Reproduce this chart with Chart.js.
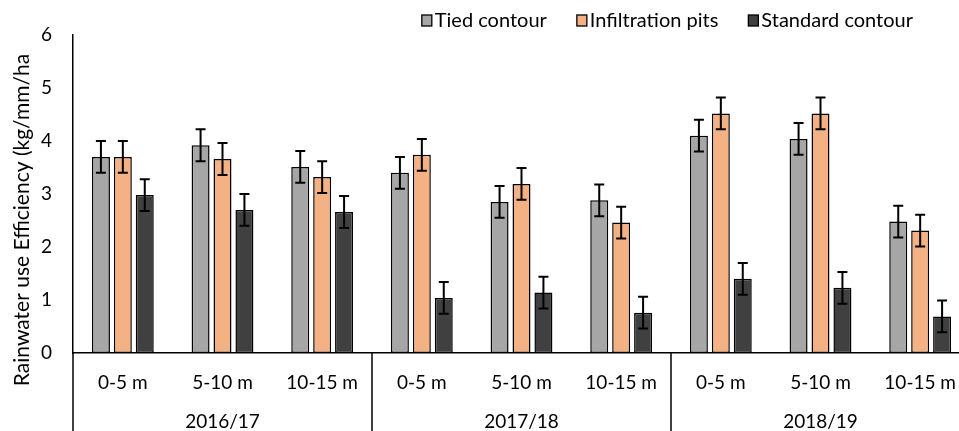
<!DOCTYPE html>
<html>
<head>
<meta charset="utf-8">
<script src="https://cdn.jsdelivr.net/npm/chart.js@4/dist/chart.umd.min.js"></script>
<style>
  html, body { margin: 0; padding: 0; background: #fff; overflow: hidden; }
  #wrap { width: 970px; height: 431px; position: relative; }
</style>
</head>
<body>
<div id="wrap"><canvas id="myCanvas"></canvas></div>
<script>
// Data
const ranges = ['0-5 m', '5-10 m', '10-15 m', '0-5 m', '5-10 m', '10-15 m', '0-5 m', '5-10 m', '10-15 m'];
const seasons = ['2016/17', '2017/18', '2018/19'];
const tiedContour = [3.70, 3.92, 3.51, 3.40, 2.85, 2.88, 4.10, 4.04, 2.48];
const infiltrationPits = [3.70, 3.66, 3.32, 3.74, 3.19, 2.46, 4.52, 4.52, 2.31];
const standardContour = [2.98, 2.70, 2.66, 1.04, 1.14, 0.76, 1.40, 1.23, 0.69];
const tiedErr = [0.30, 0.30, 0.30, 0.30, 0.30, 0.30, 0.30, 0.30, 0.30];
const pitsErr = [0.30, 0.30, 0.30, 0.30, 0.30, 0.30, 0.30, 0.30, 0.30];
const standardErr = [0.30, 0.30, 0.30, 0.30, 0.30, 0.30, 0.30, 0.30, 0.30];
const yTicks = [0, 1, 2, 3, 4, 5, 6];

const FONT = 'Lato, "Open Sans", sans-serif';
Chart.defaults.font.family = FONT;
Chart.defaults.color = '#000';

const ctx = document.getElementById('myCanvas').getContext('2d');

// error bars drawn from each bar's own scale position
const errorBars = {
    id: 'errorBars',
    afterDatasetsDraw(chart) {
        const c = chart.ctx;
        const yScale = chart.scales.y;
        c.save();
        c.strokeStyle = '#000';
        c.lineWidth = 2;
        chart.data.datasets.forEach((ds, i) => {
            const meta = chart.getDatasetMeta(i);
            meta.data.forEach((bar, j) => {
                const v = ds.data[j], e = ds.errors[j];
                const top = yScale.getPixelForValue(v + e);
                const bot = yScale.getPixelForValue(v - e);
                c.beginPath();
                c.moveTo(bar.x, top); c.lineTo(bar.x, bot);
                c.moveTo(bar.x - 5, top); c.lineTo(bar.x + 5, top);
                c.moveTo(bar.x - 5, bot); c.lineTo(bar.x + 5, bot);
                c.stroke();
            });
        });
        c.restore();
    }
};

// season labels, separators, legend and the y title
const extras = {
    id: 'extras',
    afterDraw(chart) {
        const c = chart.ctx;
        const x = chart.scales.x;
        const area = chart.chartArea;
        const H = chart.height;
        c.save();
        c.strokeStyle = '#000';
        c.lineWidth = 1.5;
        const seps = [area.left, (x.getPixelForValue(2) + x.getPixelForValue(3)) / 2,
                      (x.getPixelForValue(5) + x.getPixelForValue(6)) / 2];
        seps.forEach(sx => {
            c.beginPath();
            c.moveTo(sx, area.bottom);
            c.lineTo(sx, H);
            c.stroke();
        });
        c.fillStyle = '#000';
        c.font = '19px ' + FONT;
        c.textAlign = 'center';
        c.textBaseline = 'middle';
        seasons.forEach((s, k) => {
            c.fillText(s, x.getPixelForValue(k * 3 + 1), 422);
        });

        // legend, right aligned like the original
        c.font = '20px ' + FONT;
        c.textAlign = 'left';
        const items = chart.data.datasets;
        const widths = items.map(ds => 10 + 3 + c.measureText(ds.label).width);
        const total = widths.reduce((a, b) => a + b, 0) + 30 * (items.length - 1);
        let lx = 913 - total;
        items.forEach((ds, i) => {
            c.fillStyle = ds.backgroundColor;
            c.fillRect(lx, 15, 10, 11);
            c.strokeStyle = '#000';
            c.lineWidth = 1.3;
            c.strokeRect(lx, 15, 10, 11);
            c.fillStyle = '#000';
            c.fillText(ds.label, lx + 13, 21);
            lx += widths[i] + 30;
        });

        c.font = '21px ' + FONT;
        c.textAlign = 'center';
        c.translate(22, 220);
        c.rotate(-Math.PI / 2);
        c.fillText('Rainwater use Efficiency (kg/mm/ha', 0, 0);
        c.restore();
    }
};

const barStyle = { borderColor: '#000', borderWidth: 1.5, borderSkipped: false,
                   categoryPercentage: 0.66, barPercentage: 0.82 };

const chart = new Chart(ctx, {
    type: 'bar',
    data: {
        labels: ranges,
        datasets: [
            { label: 'Tied contour', data: tiedContour, errors: tiedErr, backgroundColor: '#a6a6a6', ...barStyle },
            { label: 'Infiltration pits', data: infiltrationPits, errors: pitsErr, backgroundColor: '#f4b183', ...barStyle },
            { label: 'Standard contour', data: standardContour, errors: standardErr, backgroundColor: '#404040', ...barStyle },
        ],
    },
    options: {
        responsive: true,
        maintainAspectRatio: false,
        animation: false,
        layout: { padding: { top: 35, right: 0, bottom: 0, left: 0 } },
        plugins: {
            tooltip: { enabled: false },
            legend: { display: false }
        },
        scales: {
            x: {
                grid: { display: false, drawTicks: false },
                border: { display: true, color: '#000', width: 1.5 },
                ticks: { font: { size: 19 }, color: '#000', padding: 18, maxRotation: 0, autoSkip: false },
                afterFit(scale) { scale.height = 78; scale.paddingLeft = 0; scale.paddingRight = 0; }
            },
            y: {
                min: 0, max: 6,
                grid: { display: false, drawTicks: false },
                border: { display: true, color: '#000', width: 1.5 },
                afterBuildTicks(scale) { scale.ticks = yTicks.map(v => ({ value: v })); },
                ticks: { font: { size: 19 }, color: '#000', padding: 21 },
                afterFit(scale) { scale.width = 73; }
            }
        }
    },
    plugins: [errorBars, extras]
});
</script>
</body>
</html>
